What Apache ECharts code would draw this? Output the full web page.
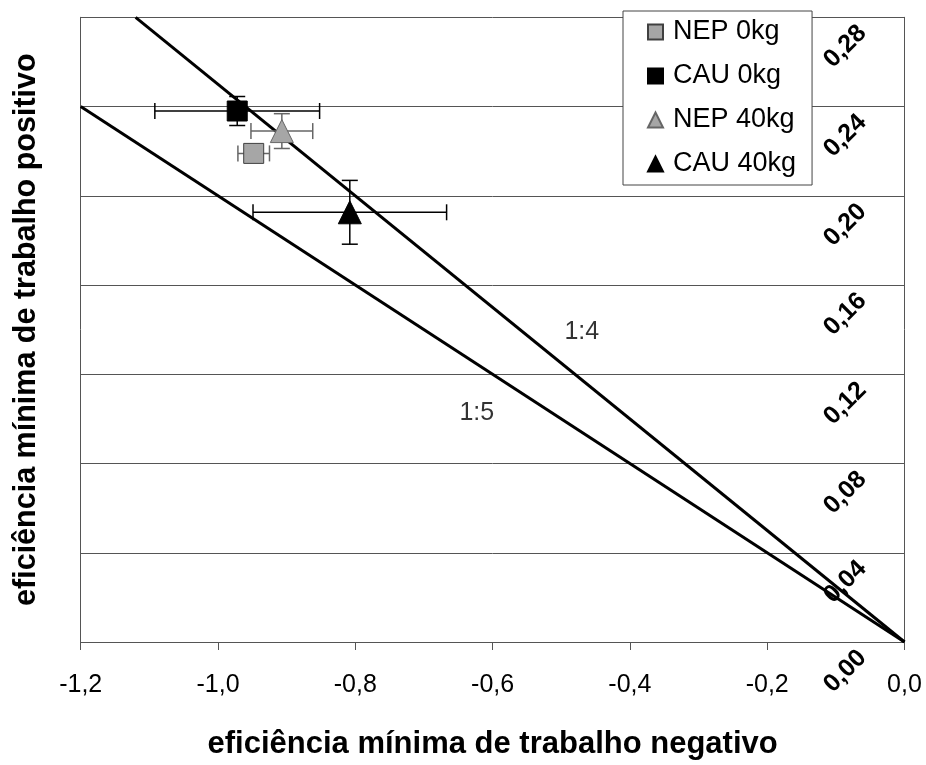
<!DOCTYPE html>
<html>
<head>
<meta charset="utf-8">
<title>eficiência mínima</title>
<script src="https://cdn.jsdelivr.net/npm/echarts@6/dist/echarts.min.js"></script>
<style>
  html, body { margin: 0; padding: 0; background: #fff; }
  #main { width: 926px; height: 765px; }
</style>
</head>
<body>
<div id="main"></div>
<script>
// dados
const seriesNames = ['NEP 0kg', 'CAU 0kg', 'NEP 40kg', 'CAU 40kg']
const xValues = [-0.948, -0.972, -0.907, -0.808]
const yValues = [0.219, 0.238, 0.229, 0.1926]
const xErrors = [0.023, 0.12, 0.045, 0.141]
const yErrors = [0.003, 0.0065, 0.0078, 0.0143]

// retas de referência (y = -x/4 e y = -x/5)
const line14 = [[-1.12, 0.28], [0, 0]]
const line15 = [[-1.2, 0.24], [0, 0]]
const lineLabels = [
  { name: '1:4', value: [-0.47, 0.139] },
  { name: '1:5', value: [-0.623, 0.1025] }
]

const xTicks = { min: -1.2, max: 0, interval: 0.2 }
const yTicks = { min: 0, max: 0.28, interval: 0.04 }

const FONT = '"Liberation Sans", Arial, sans-serif'
const markerStyles = [
  { symbol: 'rect', size: 20, color: '#a6a6a6', border: '#404040', bar: '#666' },
  { symbol: 'rect', size: 20, color: '#000', border: '#000', bar: '#000' },
  { symbol: 'triangle', size: 23, color: '#a6a6a6', border: '#666', bar: '#666' },
  { symbol: 'triangle', size: 23, color: '#000', border: '#000', bar: '#000' }
]

const comma = (v, d) => v.toFixed(d).replace('.', ',')

const errorData = xValues.map((x, i) => [x, yValues[i], xErrors[i], yErrors[i], i])

function renderErrorBar (params, api) {
  const x = api.value(0)
  const y = api.value(1)
  const ex = api.value(2)
  const ey = api.value(3)
  const color = markerStyles[api.value(4)].bar
  const l = api.coord([x - ex, y])
  const r = api.coord([x + ex, y])
  const t = api.coord([x, y + ey])
  const b = api.coord([x, y - ey])
  const cap = 8
  const style = { stroke: color, lineWidth: 1.5 }
  const seg = (x1, y1, x2, y2) => ({ type: 'line', shape: { x1, y1, x2, y2 }, style })
  return {
    type: 'group',
    children: [
      seg(l[0], l[1], r[0], r[1]),
      seg(l[0], l[1] - cap, l[0], l[1] + cap),
      seg(r[0], r[1] - cap, r[0], r[1] + cap),
      seg(t[0], t[1], b[0], b[1]),
      seg(t[0] - cap, t[1], t[0] + cap, t[1]),
      seg(b[0] - cap, b[1], b[0] + cap, b[1])
    ]
  }
}

const scatterSeries = seriesNames.map((name, i) => ({
  name,
  type: 'scatter',
  symbol: markerStyles[i].symbol,
  symbolSize: markerStyles[i].size,
  itemStyle: { color: markerStyles[i].color, borderColor: markerStyles[i].border, borderWidth: 1, opacity: 1 },
  data: [[xValues[i], yValues[i]]],
  z: 5
}))

const option = {
  animation: false,
  backgroundColor: '#fff',
  textStyle: { fontFamily: FONT, color: '#000' },
  grid: { left: 80.7, right: 21.5, top: 17.3, bottom: 120.7 },
  legend: {
    data: seriesNames,
    orient: 'vertical',
    left: 623,
    top: 11,
    padding: [7, 16, 7, 24],
    itemGap: 16,
    itemWidth: 15,
    itemHeight: 15,
    backgroundColor: '#fff',
    borderColor: '#444',
    borderWidth: 1,
    borderRadius: 0,
    textStyle: { fontSize: 27, lineHeight: 28, color: '#000', fontFamily: FONT, padding: [0, 0, 0, 5] }
  },
  xAxis: {
    type: 'value',
    min: xTicks.min,
    max: xTicks.max,
    interval: xTicks.interval,
    name: 'eficiência mínima de trabalho negativo',
    nameLocation: 'middle',
    nameGap: 87,
    nameTextStyle: { fontSize: 31, fontWeight: 'bold', color: '#000', fontFamily: FONT },
    axisLine: { show: true, onZero: false, lineStyle: { color: '#555', width: 1 } },
    axisTick: { show: true, inside: false, length: 8, lineStyle: { color: '#555' } },
    axisLabel: { fontSize: 25, color: '#000', margin: 31, showMinLabel: true, showMaxLabel: true, formatter: v => comma(v, 1) },
    splitLine: { show: false }
  },
  yAxis: [
    {
      type: 'value',
      position: 'right',
      min: yTicks.min,
      max: yTicks.max,
      interval: yTicks.interval,
      axisLine: { show: true, onZero: false, lineStyle: { color: '#555', width: 1 } },
      axisTick: { show: false },
      axisLabel: {
        inside: true,
        rotate: 45,
        margin: 30,
        align: 'right',
        verticalAlign: 'middle',
        padding: [0, 17, 0, 0],
        fontSize: 25,
        fontWeight: 'bold',
        color: '#000',
        showMinLabel: true,
        showMaxLabel: true,
        hideOverlap: false,
        formatter: v => comma(v, 2)
      },
      splitLine: { show: true, lineStyle: { color: '#555', width: 1 } }
    },
    {
      type: 'value',
      position: 'left',
      min: yTicks.min,
      max: yTicks.max,
      interval: yTicks.interval,
      name: 'eficiência mínima de trabalho positivo',
      nameLocation: 'middle',
      nameGap: 39,
      nameTextStyle: { fontSize: 30.5, fontWeight: 'bold', color: '#000', fontFamily: FONT },
      axisLine: { show: true, onZero: false, lineStyle: { color: '#555', width: 1 } },
      axisTick: { show: false },
      axisLabel: { show: false },
      splitLine: { show: false }
    }
  ],
  series: [
    {
      name: 'reta 1:4',
      type: 'line',
      data: line14,
      symbol: 'none',
      lineStyle: { color: '#000', width: 3 },
      z: 3
    },
    {
      name: 'reta 1:5',
      type: 'line',
      data: line15,
      symbol: 'none',
      lineStyle: { color: '#000', width: 3 },
      z: 3
    },
    {
      name: 'rótulos',
      type: 'scatter',
      data: lineLabels,
      symbolSize: 0,
      label: { show: true, position: 'inside', formatter: p => p.name, fontSize: 25, color: '#000', fontFamily: FONT },
      z: 3
    },
    {
      name: 'erros',
      type: 'custom',
      data: errorData,
      renderItem: renderErrorBar,
      z: 4
    },
    ...scatterSeries
  ]
}

const myChart = echarts.init(document.getElementById('main'))
myChart.setOption(option)
</script>
</body>
</html>
